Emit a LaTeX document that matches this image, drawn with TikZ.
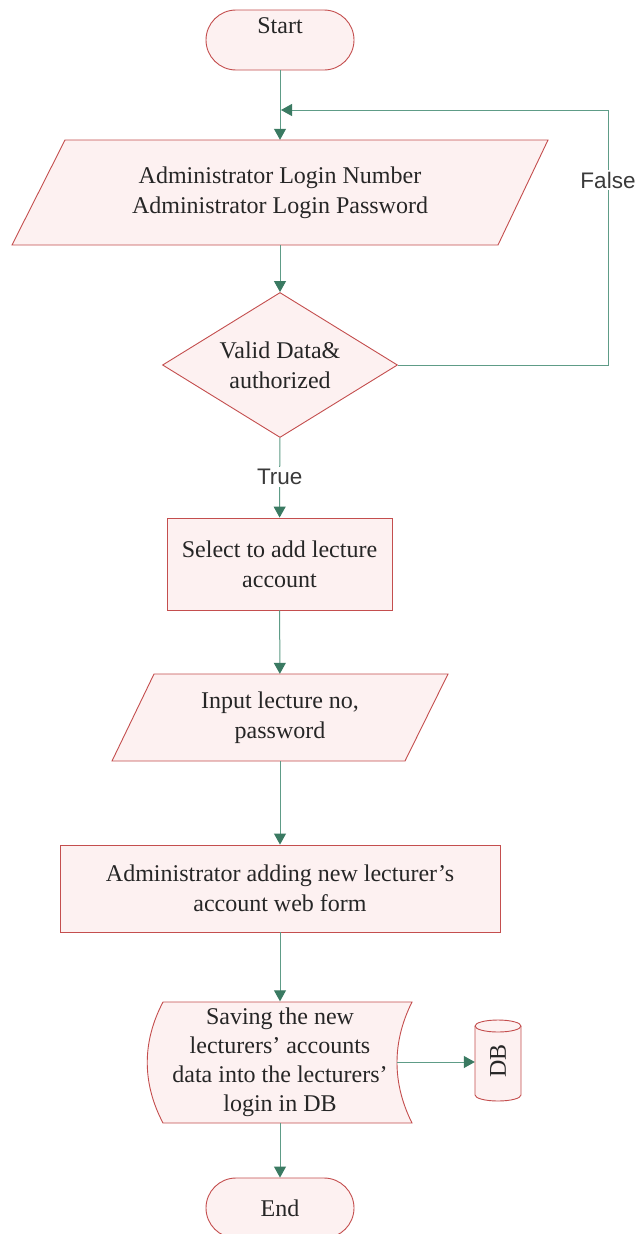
\documentclass[tikz,border=0pt]{standalone}
\usepackage{fontspec}
\setmainfont{Liberation Serif}
\newfontfamily\labelfont{Liberation Sans}
\usetikzlibrary{arrows.meta,shapes.geometric}
\definecolor{shapeline}{HTML}{C44E4E}
\definecolor{shapefill}{HTML}{FDF1F1}
\definecolor{flowline}{HTML}{5E9C87}
\definecolor{flowtip}{HTML}{3A7A62}
\definecolor{labelgray}{HTML}{3A3A3A}
\begin{document}
\begin{tikzpicture}[x=1pt,y=1pt,
  shp/.style={draw=shapeline, fill=shapefill, line width=0.9pt},
  txt/.style={font=\fontsize{24}{30}\selectfont, text=black!85, align=center, inner sep=0pt},
  term/.style={shp, rounded corners=30pt, minimum width=148pt, minimum height=60pt, inner sep=0pt},
  conn/.style={draw=flowline, line width=1pt, -{Triangle[length=11pt,width=12pt,color=flowtip]}},
  lbl/.style={font=\labelfont\fontsize{22.5}{26}\selectfont, text=labelgray, fill=white, inner sep=2pt},
]
\useasboundingbox[fill=white] (0,0) rectangle (638,-1234);

% outlines of the input/output and stored-data symbols
\draw[shp] (65,-140) -- (548,-140) -- (498,-245) -- (12,-245) -- cycle;
\draw[shp] (154,-674) -- (448,-674) -- (405,-761) -- (112,-761) -- cycle;
\draw[shp] (163,-1002) -- (412,-1002)
  .. controls (392,-1042) and (392,-1083) .. (412,-1123)
  -- (163,-1123)
  .. controls (142,-1083) and (142,-1042) .. (163,-1002) -- cycle;
% database cylinder
\draw[shp] (475,-1026) -- (475,-1095)
  arc[start angle=180, end angle=360, x radius=23pt, y radius=6pt]
  -- (521,-1026)
  arc[start angle=0, end angle=180, x radius=23pt, y radius=6pt] -- cycle;
\draw[shapeline, line width=0.9pt] (475,-1026)
  arc[start angle=180, end angle=360, x radius=23pt, y radius=6pt];

% nodes
\node[term] (start) at (280,-40) {};
\node[txt] (starttext) at (280,-26) {Start};
\node[txt, minimum height=105pt] (io1) at (280,-192.5)
  {Administrator Login Number\\Administrator Login Password};
\node[shp, txt, diamond, aspect=1.62, minimum width=235pt, minimum height=145pt] (valid) at (280,-365)
  {Valid Data\&\\authorized};
\node[shp, txt, minimum width=225pt, minimum height=92pt] (select) at (279.5,-564)
  {Select to add lecture\\account};
\node[txt, minimum height=87pt] (io2) at (280,-717.5)
  {Input lecture no,\\password};
\node[shp, txt, minimum width=440pt, minimum height=87pt] (addform) at (280,-888.5)
  {Administrator adding new lecturer's\\account web form};
\node[txt, font=\fontsize{24}{29}\selectfont, minimum width=234pt, minimum height=121pt] (save) at (280,-1062)
  {Saving the new\\lecturers' accounts\\data into the lecturers'\\login in DB};
\node[txt, minimum width=46pt, minimum height=82pt] (db) at (498,-1061) {\rotatebox{90}{DB}};
\node[term, txt] (end) at (280,-1208) {End};

% loop-back route
\coordinate (loopcorner) at (608,-365);
\coordinate (looptop) at (608,-110);
\coordinate (loopjoin) at (281,-110);

% connectors
\draw[conn] (start) -- (io1);
\draw[conn] (io1) -- (valid);
\draw[conn] (valid.east) -- (loopcorner)
  -- node[lbl, pos=0.725] (falselbl) {False} (looptop) -- (loopjoin);
\draw[conn] (valid) -- node[lbl, pos=0.49] (truelbl) {True} (select);
\draw[conn] (select) -- (io2);
\draw[conn] (io2) -- (addform);
\draw[conn] (addform) -- (save);
\draw[conn] (save.east) -- (save.east -| db.west);
\draw[conn] (save) -- (end);
\end{tikzpicture}
\end{document}
